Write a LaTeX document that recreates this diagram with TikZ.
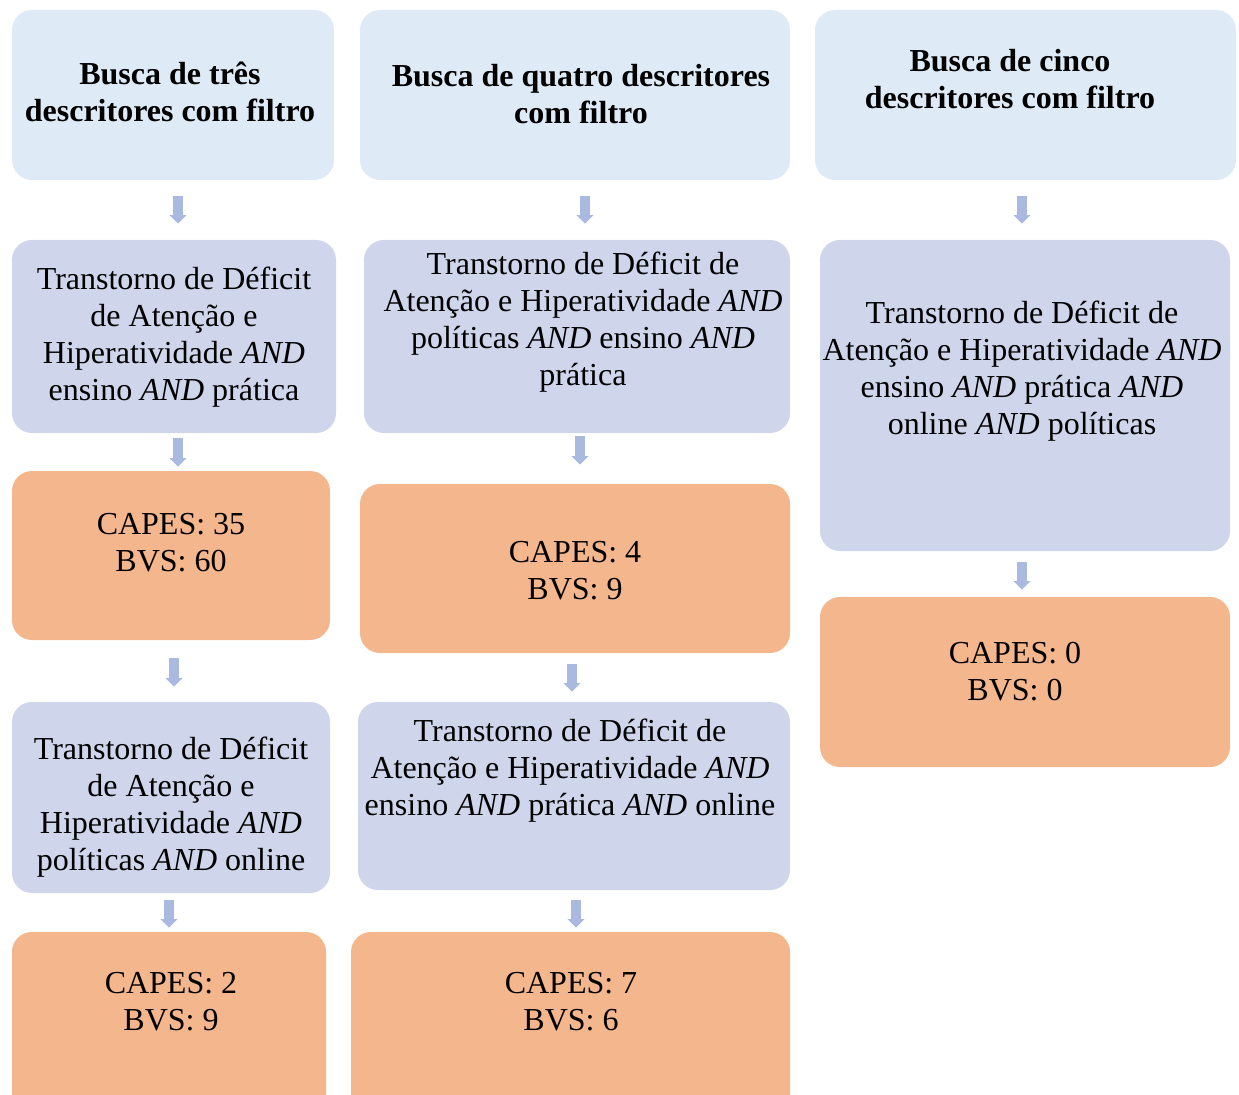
\documentclass[tikz,border=0pt]{standalone}
\usepackage{fontspec}
\setmainfont{Liberation Serif}
\usetikzlibrary{arrows.meta,calc,fit}
\definecolor{hdr}{HTML}{DEEBF7}
\definecolor{mid}{HTML}{CFD5EA}
\definecolor{org}{HTML}{F4B68C}
\definecolor{arr}{HTML}{AAB9E0}
\tikzset{
  box/.style={rounded corners=15pt, inner sep=0pt, draw=none},
  hbox/.style={box, fill=hdr},
  mbox/.style={box, fill=mid},
  obox/.style={box, fill=org},
  txt/.style={align=center, font=\fontsize{24}{27.75}\selectfont, inner sep=0pt},
  btxt/.style={txt, font=\fontsize{24}{27.75}\selectfont\bfseries},
  barrow/.style={draw=arr, line width=7.5pt, -{Triangle[width=12.5pt,length=6.5pt]}}
}
\begin{document}
\begin{tikzpicture}[x=0.75pt,y=-0.75pt]
\useasboundingbox (0,0) rectangle (1239,1095);
\clip (0,0) rectangle (1239,1095);
% column 1
\node[hbox, fit={(12,10) (334,180)}] (H1) {};
\node[mbox, fit={(12,240) (336,433)}] (M1) {};
\node[obox, fit={(12,471) (330,640)}] (O1) {};
\node[mbox, fit={(12,702) (330,893)}] (M2) {};
\node[obox, fit={(12,932) (326,1125)}] (O2) {};
% column 2
\node[hbox, fit={(360,10) (790,180)}] (H2) {};
\node[mbox, fit={(364,240) (790,433)}] (M3) {};
\node[obox, fit={(360,484) (790,653)}] (O3) {};
\node[mbox, fit={(358,702) (790,890)}] (M4) {};
\node[obox, fit={(351,932) (790,1125)}] (O4) {};
% column 3
\node[hbox, fit={(815,10) (1236,180)}] (H3) {};
\node[mbox, fit={(820,240) (1230,551)}] (M5) {};
\node[obox, fit={(820,597) (1230,767)}] (O5) {};
% texts
\node[btxt] (H1t) at (170,92) {Busca de três\\descritores com filtro};
\node[btxt] (H2t) at (581,94) {Busca de quatro descritores\\com filtro};
\node[btxt] (H3t) at (1010,79) {Busca de cinco\\descritores com filtro};
\node[txt] (M1t) at (174,337) {Transtorno de Déficit\\de Atenção e\\Hiperatividade \textit{AND}\\ensino \textit{AND} prática};
\node[txt] (M2t) at (171,807) {Transtorno de Déficit\\de Atenção e\\Hiperatividade \textit{AND}\\políticas \textit{AND} online};
\node[txt] (M3t) at (583,322) {Transtorno de Déficit de\\Atenção e Hiperatividade \textit{AND}\\políticas \textit{AND} ensino \textit{AND}\\prática};
\node[txt] (M4t) at (570,771) {Transtorno de Déficit de\\Atenção e Hiperatividade \textit{AND}\\ensino \textit{AND} prática \textit{AND} online};
\node[txt] (M5t) at (1022,371) {Transtorno de Déficit de\\Atenção e Hiperatividade \textit{AND}\\ensino \textit{AND} prática \textit{AND}\\online \textit{AND} políticas};
\node[txt] (O1t) at (171,543) {CAPES: 35\\BVS: 60};
\node[txt] (O2t) at (171,1002) {CAPES: 2\\BVS: 9};
\node[txt] (O3t) at (575,571) {CAPES: 4\\BVS: 9};
\node[txt] (O4t) at (571,1002) {CAPES: 7\\BVS: 6};
\node[txt] (O5t) at (1015,672) {CAPES: 0\\BVS: 0};
% arrows
\draw[barrow] ($(H1.south)+(5,16)$) -- ($(M1.north)+(4,-16)$);
\draw[barrow] ($(M1.south)+(4,5)$) -- ($(O1.north)+(7,-4)$);
\draw[barrow] ($(O1.south)+(3,18)$) -- ($(M2.north)+(3,-15)$);
\draw[barrow] ($(M2.south)+(-2,7)$) -- ($(O2.north)+(0,-4)$);
\draw[barrow] ($(H2.south)+(10,16)$) -- ($(M3.north)+(8,-16)$);
\draw[barrow] ($(M3.south)+(3,3)$) -- ($(O3.north)+(5,-19)$);
\draw[barrow] ($(O3.south)+(-3,11)$) -- ($(M4.north)+(-2,-10)$);
\draw[barrow] ($(M4.south)+(2,10)$) -- ($(O4.north)+(5.5,-4)$);
\draw[barrow] ($(H3.south)+(-3.5,16)$) -- ($(M5.north)+(-3,-16)$);
\draw[barrow] ($(M5.south)+(-3,11)$) -- ($(O5.north)+(-3,-7)$);
\end{tikzpicture}
\end{document}
